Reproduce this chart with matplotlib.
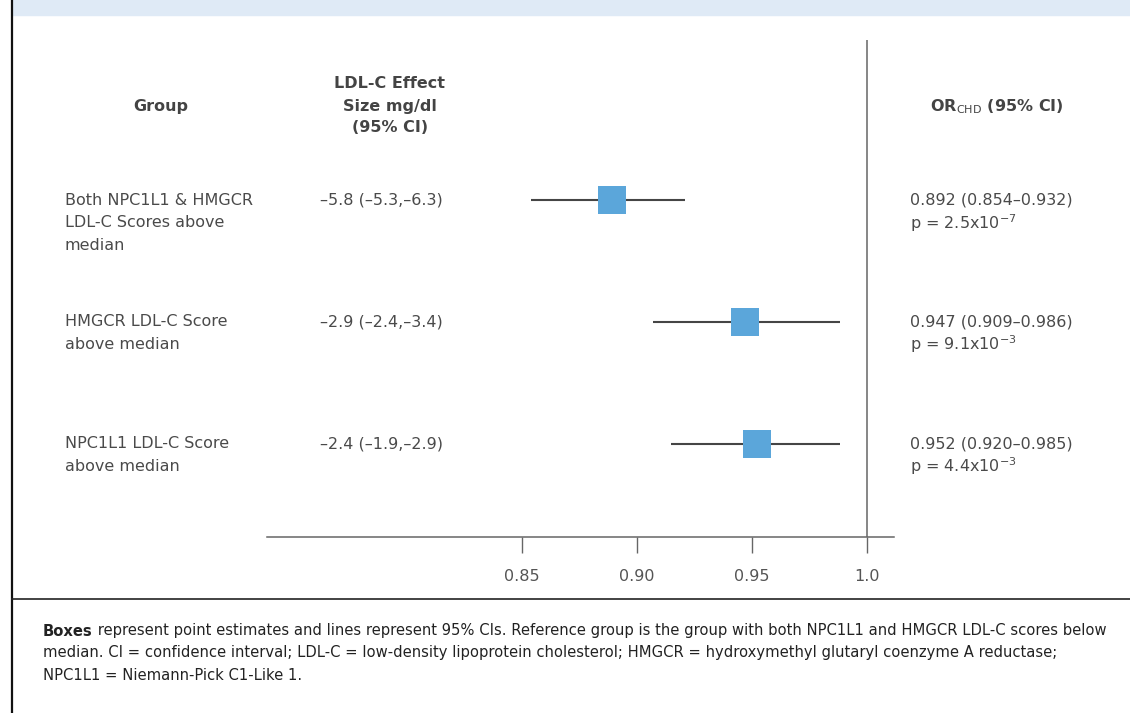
#!/usr/bin/env python3
"""
plot.py - Forest plot of CHD odds ratio by LDL-C genetic score group
"""

import matplotlib
matplotlib.use("Agg")
import matplotlib.pyplot as plt
import matplotlib.transforms as mtransforms
from matplotlib.patches import Rectangle
from matplotlib.lines import Line2D

# values
groups = [
    ["Both NPC1L1 & HMGCR", "LDL-C Scores above", "median"],
    ["HMGCR LDL-C Score", "above median"],
    ["NPC1L1 LDL-C Score", "above median"],
]
ldl_effect = ["–5.8 (–5.3,–6.3)", "–2.9 (–2.4,–3.4)", "–2.4 (–1.9,–2.9)"]
or_labels = ["0.892 (0.854–0.932)", "0.947 (0.909–0.986)", "0.952 (0.920–0.985)"]
p_labels = ["p = 2.5x10$^{-7}$", "p = 9.1x10$^{-3}$", "p = 4.4x10$^{-3}$"]
or_est = [0.889, 0.947, 0.952]
ci_low = [0.854, 0.907, 0.915]
ci_high = [0.921, 0.988, 0.988]
xticks = [0.85, 0.90, 0.95, 1.0]
xtick_labels = ["0.85", "0.90", "0.95", "1.0"]

header_group = "Group"
header_ldl = ["LDL-C Effect", "Size mg/dl", "(95% CI)"]
header_or = "OR$_{\\mathrm{CHD}}$ (95% CI)"

footnote_bold = "Boxes"
footnote_lines = [
    " represent point estimates and lines represent 95% CIs. Reference group is the group "
    "with both NPC1L1 and HMGCR LDL-C scores below",
    "median. CI = confidence interval; LDL-C = low-density lipoprotein cholesterol; "
    "HMGCR = hydroxymethyl glutaryl coenzyme A reductase;",
    "NPC1L1 = Niemann-Pick C1-Like 1.",
]

W, H = 1130, 713
BOX_COLOR = "#5ba6da"
LINE_COLOR = "#454545"
TEXT_COLOR = "#4a4a4a"
HEAD_COLOR = "#444444"
FONT = "DejaVu Sans"


def fx(x):
    return x / W


def fy(y):
    return 1 - y / H


def draw_frame(fig):
    """Blue band on top, left border and footnote separator"""
    fig.patches.append(Rectangle((fx(12), fy(15)), 1 - fx(12), 15 / H,
                                 transform=fig.transFigure, color="#dfeaf6", zorder=0))
    fig.lines.append(Line2D([fx(12), fx(12)], [0, 1], transform=fig.transFigure,
                            color="#111111", linewidth=1.6))
    fig.lines.append(Line2D([fx(12), 1], [fy(599), fy(599)], transform=fig.transFigure,
                            color="#222222", linewidth=1.2))


def draw_forest(fig):
    """Boxes, CI lines and the OR axis"""
    ax = fig.add_axes([fx(266.6), fy(537.3), fx(894.4) - fx(266.6), (537.3 - 40) / H])
    rows = list(range(len(or_est)))

    for i in rows:
        ax.plot([ci_low[i], ci_high[i]], [i, i], color=LINE_COLOR, linewidth=1.5,
                solid_capstyle="butt", zorder=2)
    ax.plot(or_est, rows, linestyle="none", marker="s", markersize=20,
            color=BOX_COLOR, markeredgewidth=0, zorder=3)
    ax.axvline(1.0, color="#666666", linewidth=1.1, zorder=1)

    ax.set_xlim(0.7392, 1.0118)
    ax.set_ylim(2.769, -1.317)
    ax.set_xticks(xticks)
    ax.set_xticklabels(xtick_labels, fontsize=11.5, color="#555555", family=FONT)
    ax.tick_params(axis="x", direction="out", length=11.5, width=1.0,
                   color="#666666", pad=11.5)
    ax.set_yticks([])
    for side in ["top", "left", "right"]:
        ax.spines[side].set_visible(False)
    ax.spines["bottom"].set_color("#666666")
    ax.spines["bottom"].set_linewidth(1.1)
    ax.patch.set_alpha(0)
    return ax


def draw_table_text(fig, ax):
    """Column headers and row labels"""
    head = dict(fontsize=11.5, color=HEAD_COLOR, family=FONT, weight="semibold",
                ha="center", va="center")
    fig.text(fx(161), fy(107), header_group, **head)
    for j, line in enumerate(header_ldl):
        fig.text(fx(390), fy(84 + j * 22), line, **head)
    fig.text(fx(997), fy(107), header_or, **head)

    trans = mtransforms.blended_transform_factory(fig.transFigure, ax.transData)
    line_step = 22.5 / 121.7
    body = dict(fontsize=11.5, color=TEXT_COLOR, family=FONT, va="center", transform=trans)
    for i, lines in enumerate(groups):
        for j, line in enumerate(lines):
            fig.text(fx(65), i + j * line_step, line, **body)
        fig.text(fx(320), i, ldl_effect[i], **body)
        fig.text(fx(910), i, or_labels[i], **body)
        fig.text(fx(910), i + line_step, p_labels[i], **body)


def draw_footnote(fig):
    """Footnote with bold lead word"""
    foot = dict(fontsize=10.65, color="#222222", family=FONT, va="center")
    renderer = fig.canvas.get_renderer()
    t = fig.text(fx(43), fy(631), footnote_bold, weight="bold", **foot)
    bb = t.get_window_extent(renderer)
    fig.text(fx(bb.x1), fy(631), footnote_lines[0], **foot)
    fig.text(fx(43), fy(653), footnote_lines[1], **foot)
    fig.text(fx(43), fy(675), footnote_lines[2], **foot)


def main():
    fig = plt.figure(figsize=(W / 100, H / 100), dpi=100)
    fig.patch.set_facecolor("white")
    draw_frame(fig)
    ax = draw_forest(fig)
    draw_table_text(fig, ax)
    draw_footnote(fig)
    fig.savefig("out.png", dpi=100)
    plt.close(fig)


if __name__ == "__main__":
    main()
